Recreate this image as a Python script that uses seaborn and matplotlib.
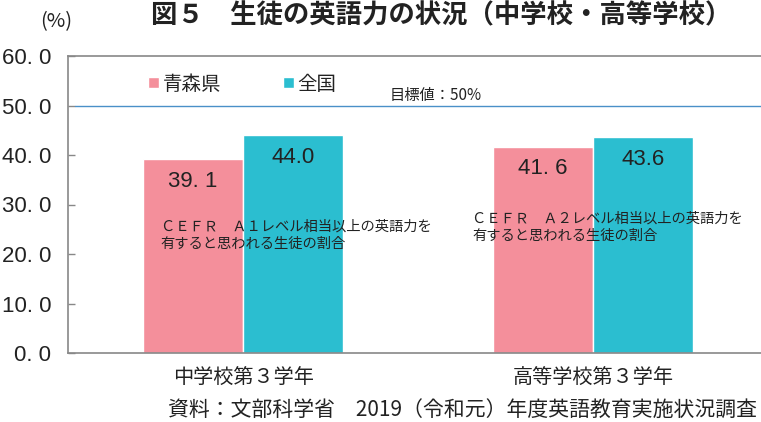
import pandas as pd
import seaborn as sns
import matplotlib.pyplot as plt
from matplotlib.ticker import FixedLocator

# data
grades = ['中学校第３学年', '高等学校第３学年']
aomori = [39.1, 41.6]
national = [44.0, 43.6]
series_names = ['青森県', '全国']
target = 50
notes = ['ＣＥＦＲ　Ａ１レベル相当以上の英語力を\n有すると思われる生徒の割合',
         'ＣＥＦＲ　Ａ２レベル相当以上の英語力を\n有すると思われる生徒の割合']
yticks = [0, 10, 20, 30, 40, 50, 60]

df = pd.DataFrame({
    'grade': grades * 2,
    'series': [series_names[0]] * 2 + [series_names[1]] * 2,
    'value': aomori + national,
})

sns.set_style('white')
plt.rcParams['font.family'] = ['Noto Sans CJK JP', 'DejaVu Sans']

PINK = '#F48F9B'
TEAL = '#2BBED0'
TEXT = '#222222'
NUM_FONT = ['Liberation Sans', 'DejaVu Sans']

fig = plt.figure(figsize=(7.61, 4.22), dpi=100)
ax = fig.add_axes([68 / 761, 1 - 353 / 422, 1 - 68 / 761, (353 - 56) / 422])

sns.barplot(data=df, x='grade', y='value', hue='series', hue_order=series_names,
            palette=[PINK, TEAL], saturation=1, width=0.5714, ax=ax)

ax.set_xlim(-0.5, 1.48)
ax.set_ylim(0, 60)
ax.yaxis.set_major_locator(FixedLocator(yticks))
ax.set_yticklabels(['{:.1f}'.format(v).replace('.', '. ') for v in yticks],
                   fontsize=16, color=TEXT, family=NUM_FONT)
ax.set_xticks([0, 1])
ax.set_xticklabels(grades, fontsize=14.5, color=TEXT)
ax.tick_params(axis='y', direction='in', length=5, width=1, color='#888888', pad=12, left=True)
ax.tick_params(axis='x', length=0, pad=11)
ax.set(xlabel='', ylabel='')

for side in ['left', 'bottom', 'top']:
    ax.spines[side].set_color('#888888')
    ax.spines[side].set_linewidth(1.2)
ax.spines['right'].set_visible(False)

# target line
ax.axhline(target, xmin=0.01, xmax=1, color='#4A90C8', lw=1)
ax.text(0.42, 52, '目標値：50%', fontsize=11, color=TEXT, ha='left', va='center')

# value labels (the Aomori bars use a wide period in the reference)
for i, cont in enumerate(ax.containers):
    sep = '. ' if i == 0 else '.'
    for bar in cont:
        h = bar.get_height()
        ax.text(bar.get_x() + bar.get_width() / 2, h - 2.3, '{:.1f}'.format(h).replace('.', sep),
                ha='center', va='top', fontsize=16, color=TEXT, family=NUM_FONT)

# notes in the bars
ax.text(-0.235, 27, notes[0], fontsize=10.3, color=TEXT, ha='left', va='top', linespacing=1.3)
ax.text(0.655, 28.5, notes[1], fontsize=10.3, color=TEXT, ha='left', va='top', linespacing=1.3)

handles, labels = ax.get_legend_handles_labels()
ax.legend(handles=handles, labels=labels, loc='upper left', bbox_to_anchor=(0.09, 1.0),
          ncol=2, frameon=False, fontsize=14, handlelength=0.55, handleheight=0.55,
          handletextpad=0.2, columnspacing=3.2, labelcolor=TEXT)

fig.text(441 / 761, 1 - 16 / 422, '図５　生徒の英語力の状況（中学校・高等学校）',
         ha='center', va='center', fontsize=19, fontweight='bold', color=TEXT)
fig.text(56 / 761, 1 - 22 / 422, '(%)', ha='center', va='center', fontsize=14.5, color=TEXT)
fig.text(757 / 761, 1 - 410 / 422, '資料：文部科学省　2019（令和元）年度英語教育実施状況調査',
         ha='right', va='center', fontsize=15, color=TEXT)

fig.savefig('out.png', dpi=100)
